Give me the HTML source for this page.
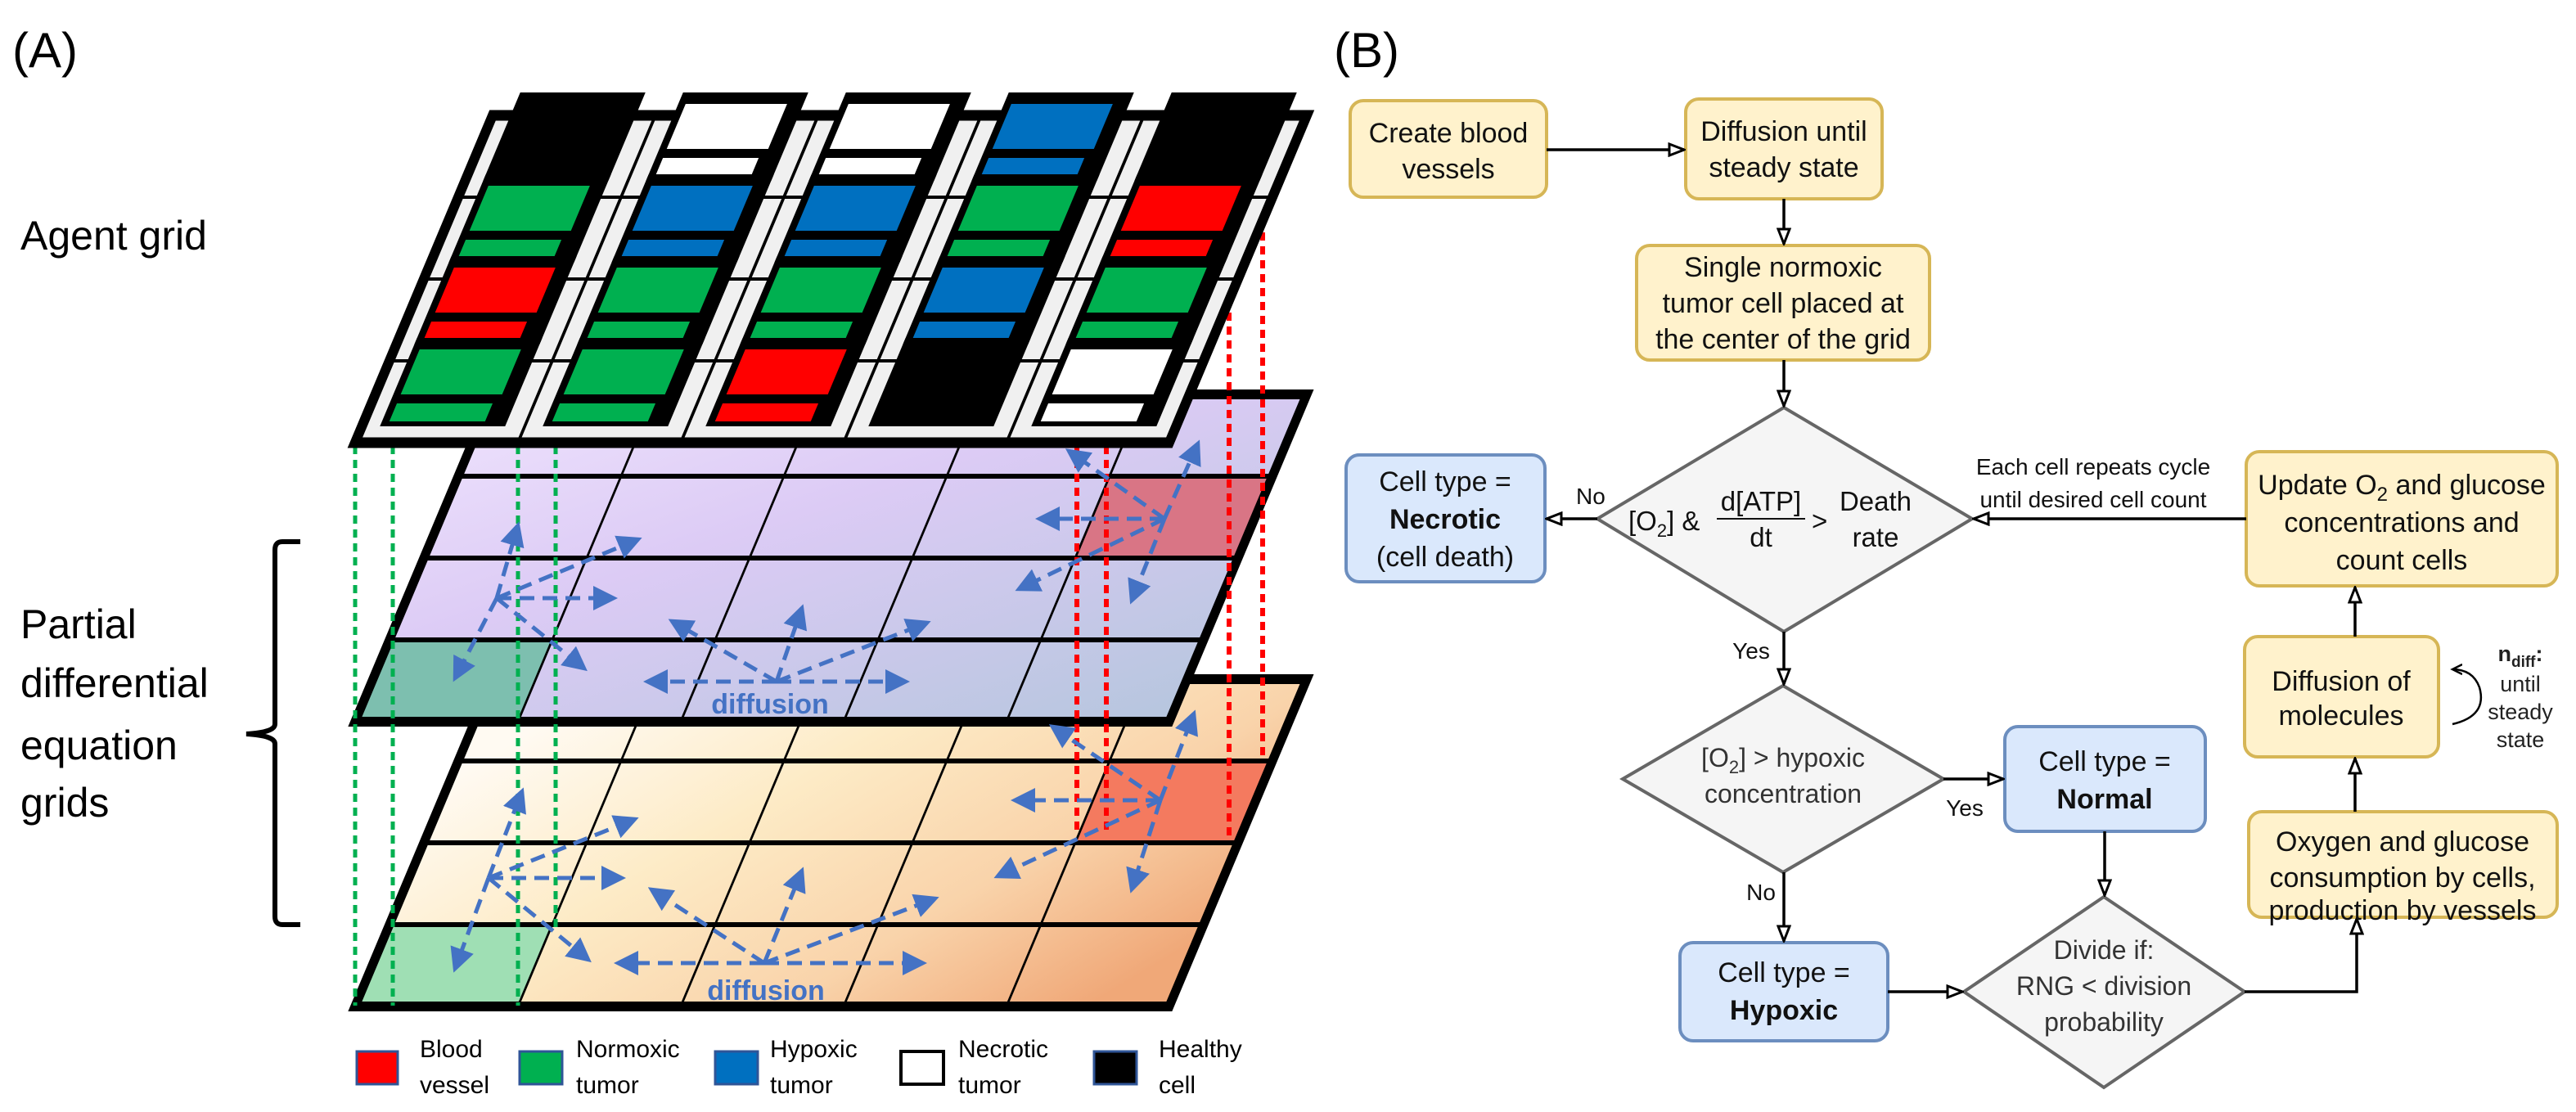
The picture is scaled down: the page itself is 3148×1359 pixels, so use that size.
<!DOCTYPE html>
<html><head><meta charset="utf-8"><style>
html,body{margin:0;padding:0;background:#fff;}
svg{display:block;}
text{font-family:"Liberation Sans",sans-serif;}
</style></head><body>
<svg width="3148" height="1359" viewBox="0 0 3148 1359" xmlns="http://www.w3.org/2000/svg">
<defs>
<linearGradient id="gp" x1="0" y1="0" x2="1" y2="1">
<stop offset="0" stop-color="#eee2fd"/><stop offset="0.4" stop-color="#dccbf5"/><stop offset="1" stop-color="#b6c6de"/>
</linearGradient>
<linearGradient id="go" x1="0" y1="0.3" x2="1" y2="0.8">
<stop offset="0" stop-color="#fffaf2"/><stop offset="0.35" stop-color="#fdebc6"/><stop offset="0.7" stop-color="#f9d3aa"/><stop offset="1" stop-color="#f0a878"/>
</linearGradient>
<marker id="ba" markerWidth="6" markerHeight="6" refX="5" refY="3" orient="auto" markerUnits="strokeWidth">
<path d="M0,0 L6,3 L0,6 Z" fill="#4472c4"/></marker>
<marker id="oa" markerWidth="22" markerHeight="18" refX="20" refY="9" orient="auto" markerUnits="userSpaceOnUse">
<path d="M2,2 L20,9 L2,16 Z" fill="#fff" stroke="#000" stroke-width="3"/></marker>
<marker id="ca" markerWidth="16" markerHeight="16" refX="12" refY="8" orient="auto" markerUnits="userSpaceOnUse">
<path d="M0,2 L12,8 L0,14" fill="none" stroke="#000" stroke-width="2.5"/></marker>
<symbol id="blk" overflow="visible">
<rect x="22" y="-28" width="153" height="108" fill="#000"/>
<rect x="31" y="-14" width="124" height="55" fill="currentColor"/>
<rect x="31" y="52" width="117" height="22" fill="currentColor"/>
</symbol>
</defs>

<!-- Panel A -->
<text x="15" y="82" font-size="60">(A)</text>
<text x="25" y="305" font-size="50">Agent grid</text>
<text x="25" y="780" font-size="50">Partial</text>
<text x="25" y="852" font-size="50">differential</text>
<text x="25" y="928" font-size="50">equation</text>
<text x="25" y="998" font-size="50">grids</text>
<path d="M367,662 L345,662 Q336,662 336,672 L336,885 Q336,895 301,897 Q336,899 336,909 L336,1120 Q336,1130 345,1130 L367,1130" fill="none" stroke="#000" stroke-width="6"/>

<!-- orange plane -->
<g transform="translate(602,830) skewX(-22.8)">
<rect x="0" y="0" width="995" height="400" fill="url(#go)"/>
<rect x="796" y="100" width="199" height="100" fill="#f47a5f"/>
<rect x="0" y="300" width="199" height="100" fill="#9fdfb4"/>
<g stroke="#000" stroke-width="6">
<line x1="0" y1="100" x2="995" y2="100"/><line x1="0" y1="200" x2="995" y2="200"/><line x1="0" y1="300" x2="995" y2="300"/>
</g>
<g stroke="#000" stroke-width="3">
<line x1="199" y1="0" x2="199" y2="400"/><line x1="398" y1="0" x2="398" y2="400"/><line x1="597" y1="0" x2="597" y2="400"/><line x1="796" y1="0" x2="796" y2="400"/>
</g>
<rect x="0" y="0" width="995" height="400" fill="none" stroke="#000" stroke-width="12"/>
</g>
<!-- purple plane -->
<g transform="translate(602,482) skewX(-22.8)">
<rect x="0" y="0" width="995" height="400" fill="url(#gp)"/>
<rect x="796" y="100" width="199" height="100" fill="#d97585"/>
<rect x="0" y="300" width="199" height="100" fill="#7dbfaf"/>
<g stroke="#000" stroke-width="6">
<line x1="0" y1="100" x2="995" y2="100"/><line x1="0" y1="200" x2="995" y2="200"/><line x1="0" y1="300" x2="995" y2="300"/>
</g>
<g stroke="#000" stroke-width="3">
<line x1="199" y1="0" x2="199" y2="400"/><line x1="398" y1="0" x2="398" y2="400"/><line x1="597" y1="0" x2="597" y2="400"/><line x1="796" y1="0" x2="796" y2="400"/>
</g>
<rect x="0" y="0" width="995" height="400" fill="none" stroke="#000" stroke-width="12"/>
</g>

<!-- dotted lines -->
<g stroke="#00b050" stroke-width="5" stroke-dasharray="10,7" fill="none">
<line x1="434" y1="545" x2="434" y2="1229"/><line x1="480" y1="545" x2="480" y2="1229"/>
<line x1="633" y1="545" x2="633" y2="1229"/><line x1="679" y1="545" x2="679" y2="1134"/>
</g>
<g stroke="#ff0000" stroke-width="6" stroke-dasharray="10,7" fill="none">
<line x1="1316" y1="545" x2="1316" y2="1021"/><line x1="1352" y1="545" x2="1352" y2="1021"/>
<line x1="1502" y1="348" x2="1502" y2="1025"/><line x1="1543" y1="250" x2="1543" y2="926"/>
</g>

<!-- agent plane -->
<g transform="translate(602,141) skewX(-22.8)">
<rect x="0" y="0" width="995" height="400" fill="#f0f0f0"/>
<g stroke="#000" stroke-width="4">
<line x1="0" y1="100" x2="995" y2="100"/><line x1="0" y1="200" x2="995" y2="200"/><line x1="0" y1="300" x2="995" y2="300"/>
<line x1="199" y1="0" x2="199" y2="400"/><line x1="398" y1="0" x2="398" y2="400"/><line x1="597" y1="0" x2="597" y2="400"/><line x1="796" y1="0" x2="796" y2="400"/>
</g>
<rect x="0" y="0" width="995" height="400" fill="none" stroke="#000" stroke-width="13"/>
<use href="#blk" x="0" y="0" style="color:#000"/>
<use href="#blk" x="199" y="0" style="color:#fff"/>
<use href="#blk" x="398" y="0" style="color:#fff"/>
<use href="#blk" x="597" y="0" style="color:#0070c0"/>
<use href="#blk" x="796" y="0" style="color:#000"/>
<use href="#blk" x="0" y="100" style="color:#00b050"/>
<use href="#blk" x="199" y="100" style="color:#0070c0"/>
<use href="#blk" x="398" y="100" style="color:#0070c0"/>
<use href="#blk" x="597" y="100" style="color:#00b050"/>
<use href="#blk" x="796" y="100" style="color:#ff0000"/>
<use href="#blk" x="0" y="200" style="color:#ff0000"/>
<use href="#blk" x="199" y="200" style="color:#00b050"/>
<use href="#blk" x="398" y="200" style="color:#00b050"/>
<use href="#blk" x="597" y="200" style="color:#0070c0"/>
<use href="#blk" x="796" y="200" style="color:#00b050"/>
<use href="#blk" x="0" y="300" style="color:#00b050"/>
<use href="#blk" x="199" y="300" style="color:#00b050"/>
<use href="#blk" x="398" y="300" style="color:#ff0000"/>
<use href="#blk" x="597" y="300" style="color:#000"/>
<use href="#blk" x="796" y="300" style="color:#fff"/>
</g>

<!-- diffusion arrows -->
<g stroke="#4472c4" stroke-width="5" stroke-dasharray="18,10" fill="none" marker-end="url(#ba)">
<line x1="607" y1="731" x2="633" y2="642"/><line x1="607" y1="731" x2="556" y2="829"/>
<line x1="607" y1="731" x2="750" y2="731"/><line x1="607" y1="731" x2="714" y2="817"/>
<line x1="607" y1="731" x2="780" y2="659"/>
<line x1="949" y1="833" x2="791" y2="833"/><line x1="949" y1="833" x2="1107" y2="833"/>
<line x1="949" y1="833" x2="821" y2="759"/><line x1="949" y1="833" x2="980" y2="743"/>
<line x1="949" y1="833" x2="1133" y2="761"/>
<line x1="1423" y1="634" x2="1270" y2="634"/><line x1="1423" y1="634" x2="1306" y2="551"/>
<line x1="1423" y1="634" x2="1464" y2="542"/><line x1="1423" y1="634" x2="1245" y2="720"/>
<line x1="1423" y1="634" x2="1383" y2="734"/>
<line x1="597" y1="1073" x2="638" y2="967"/><line x1="597" y1="1073" x2="556" y2="1184"/>
<line x1="597" y1="1073" x2="760" y2="1073"/><line x1="597" y1="1073" x2="719" y2="1173"/>
<line x1="597" y1="1073" x2="776" y2="1001"/>
<line x1="934" y1="1177" x2="755" y2="1177"/><line x1="934" y1="1177" x2="1128" y2="1177"/>
<line x1="934" y1="1177" x2="796" y2="1087"/><line x1="934" y1="1177" x2="980" y2="1064"/>
<line x1="934" y1="1177" x2="1143" y2="1098"/>
<line x1="1418" y1="978" x2="1240" y2="978"/><line x1="1418" y1="978" x2="1286" y2="888"/>
<line x1="1418" y1="978" x2="1459" y2="872"/><line x1="1418" y1="978" x2="1219" y2="1071"/>
<line x1="1418" y1="978" x2="1383" y2="1087"/>
</g>
<text x="941" y="872" font-size="34" font-weight="bold" fill="#4472c4" text-anchor="middle">diffusion</text>
<text x="936" y="1222" font-size="34" font-weight="bold" fill="#4472c4" text-anchor="middle">diffusion</text>

<!-- legend -->
<rect x="436" y="1285" width="50" height="40" fill="#ff0000" stroke="#2f5597" stroke-width="3"/>
<rect x="635" y="1285" width="52" height="40" fill="#00b050" stroke="#2f5597" stroke-width="3"/>
<rect x="874" y="1285" width="52" height="40" fill="#0070c0" stroke="#2f5597" stroke-width="3"/>
<rect x="1101" y="1285" width="52" height="40" fill="#fff" stroke="#000" stroke-width="4"/>
<rect x="1337" y="1285" width="52" height="40" fill="#000" stroke="#2f5597" stroke-width="3"/>
<g font-size="30">
<text x="513" y="1292">Blood</text><text x="513" y="1336">vessel</text>
<text x="704" y="1292">Normoxic</text><text x="704" y="1336">tumor</text>
<text x="941" y="1292">Hypoxic</text><text x="941" y="1336">tumor</text>
<text x="1171" y="1292">Necrotic</text><text x="1171" y="1336">tumor</text>
<text x="1416" y="1292">Healthy</text><text x="1416" y="1336">cell</text>
</g>

<!-- Panel B -->
<text x="1630" y="82" font-size="60">(B)</text>
<g stroke-width="4">
<rect x="1650" y="123" width="240" height="118" rx="16" fill="#fff2cc" stroke="#d6b656"/>
<rect x="2060" y="121" width="240" height="122" rx="16" fill="#fff2cc" stroke="#d6b656"/>
<rect x="2000" y="300" width="358" height="140" rx="16" fill="#fff2cc" stroke="#d6b656"/>
<rect x="2745" y="552" width="380" height="164" rx="16" fill="#fff2cc" stroke="#d6b656"/>
<rect x="2743" y="778" width="237" height="147" rx="16" fill="#fff2cc" stroke="#d6b656"/>
<rect x="2748" y="992" width="377" height="129" rx="16" fill="#fff2cc" stroke="#d6b656"/>
<rect x="1645" y="556" width="243" height="155" rx="16" fill="#dae8fc" stroke="#6c8ebf"/>
<rect x="2450" y="888" width="245" height="128" rx="16" fill="#dae8fc" stroke="#6c8ebf"/>
<rect x="2053" y="1152" width="254" height="120" rx="16" fill="#dae8fc" stroke="#6c8ebf"/>
<polygon points="2180,498 2410,634 2180,772 1952,634" fill="#f5f5f5" stroke="#666"/>
<polygon points="2179,838 2375,952 2179,1066 1983,952" fill="#f5f5f5" stroke="#666"/>
<polygon points="2571,1096 2743,1212 2571,1329 2400,1212" fill="#f5f5f5" stroke="#666"/>
</g>
<!-- connectors -->
<g stroke="#000" stroke-width="3.5" fill="none" marker-end="url(#oa)">
<line x1="1890" y1="183" x2="2058" y2="183"/>
<line x1="2180" y1="243" x2="2180" y2="298"/>
<line x1="2180" y1="440" x2="2180" y2="496"/>
<line x1="1952" y1="634" x2="1890" y2="634"/>
<line x1="2745" y1="634" x2="2412" y2="634"/>
<line x1="2180" y1="772" x2="2180" y2="836"/>
<line x1="2375" y1="952" x2="2448" y2="952"/>
<line x1="2180" y1="1066" x2="2180" y2="1150"/>
<line x1="2572" y1="1016" x2="2572" y2="1094"/>
<line x1="2307" y1="1212" x2="2398" y2="1212"/>
<polyline points="2743,1212 2880,1212 2880,1123"/>
<line x1="2878" y1="992" x2="2878" y2="927"/>
<line x1="2878" y1="778" x2="2878" y2="718"/>
</g>
<path d="M2997,885 Q3040,875 3030,840 Q3022,818 2997,818" fill="none" stroke="#000" stroke-width="2.5" marker-end="url(#ca)"/>

<g font-size="34" text-anchor="middle" fill="#111">
<text x="1770" y="174">Create blood</text><text x="1770" y="218">vessels</text>
<text x="2180" y="172">Diffusion until</text><text x="2180" y="216">steady state</text>
<text x="2179" y="338">Single normoxic</text><text x="2179" y="382">tumor cell placed at</text><text x="2179" y="426">the center of the grid</text>
<text x="2935" y="604">Update O<tspan font-size="24" dy="8">2</tspan><tspan dy="-8"> and glucose</tspan></text>
<text x="2935" y="650">concentrations and</text><text x="2935" y="696">count cells</text>
<text x="2861" y="844">Diffusion of</text><text x="2861" y="886">molecules</text>
<text x="2936" y="1040">Oxygen and glucose</text><text x="2936" y="1084">consumption by cells,</text><text x="2936" y="1128" dy="-4">production by vessels</text>
<text x="1766" y="600">Cell type =</text><text x="1766" y="646" font-weight="bold">Necrotic</text><text x="1766" y="692">(cell death)</text>
<text x="2572" y="942">Cell type =</text><text x="2572" y="988" font-weight="bold">Normal</text>
<text x="2180" y="1200">Cell type =</text><text x="2180" y="1246" font-weight="bold">Hypoxic</text>
</g>
<g font-size="32" text-anchor="middle" fill="#333">
<text x="2179" y="937">[O<tspan font-size="22" dy="8">2</tspan><tspan dy="-8">] &gt; hypoxic</tspan></text>
<text x="2179" y="981">concentration</text>
<text x="2571" y="1172">Divide if:</text><text x="2571" y="1216">RNG &lt; division</text><text x="2571" y="1260">probability</text>
</g>
<g font-size="33" fill="#111">
<text x="1990" y="648">[O<tspan font-size="22" dy="8">2</tspan><tspan dy="-8">] &amp;</tspan></text>
<text x="2152" y="624" text-anchor="middle">d[ATP]</text>
<line x1="2098" y1="634" x2="2206" y2="634" stroke="#111" stroke-width="2"/>
<text x="2152" y="668" text-anchor="middle">dt</text>
<text x="2214" y="648">&gt;</text>
<text x="2292" y="624" text-anchor="middle">Death</text>
<text x="2292" y="668" text-anchor="middle">rate</text>
</g>
<g font-size="28" fill="#111">
<text x="1926" y="616">No</text>
<text x="2558" y="580" text-anchor="middle">Each cell repeats cycle</text>
<text x="2558" y="620" text-anchor="middle">until desired cell count</text>
<text x="2140" y="805" text-anchor="middle">Yes</text>
<text x="2401" y="997" text-anchor="middle">Yes</text>
<text x="2152" y="1100" text-anchor="middle">No</text>
</g>
<g font-size="27" text-anchor="middle" fill="#222">
<text x="3080" y="808" font-weight="bold">n<tspan font-size="19" dy="7">diff</tspan><tspan dy="-7">:</tspan></text>
<text x="3080" y="845">until</text><text x="3080" y="879">steady</text><text x="3080" y="913">state</text>
</g>
</svg>
</body></html>
